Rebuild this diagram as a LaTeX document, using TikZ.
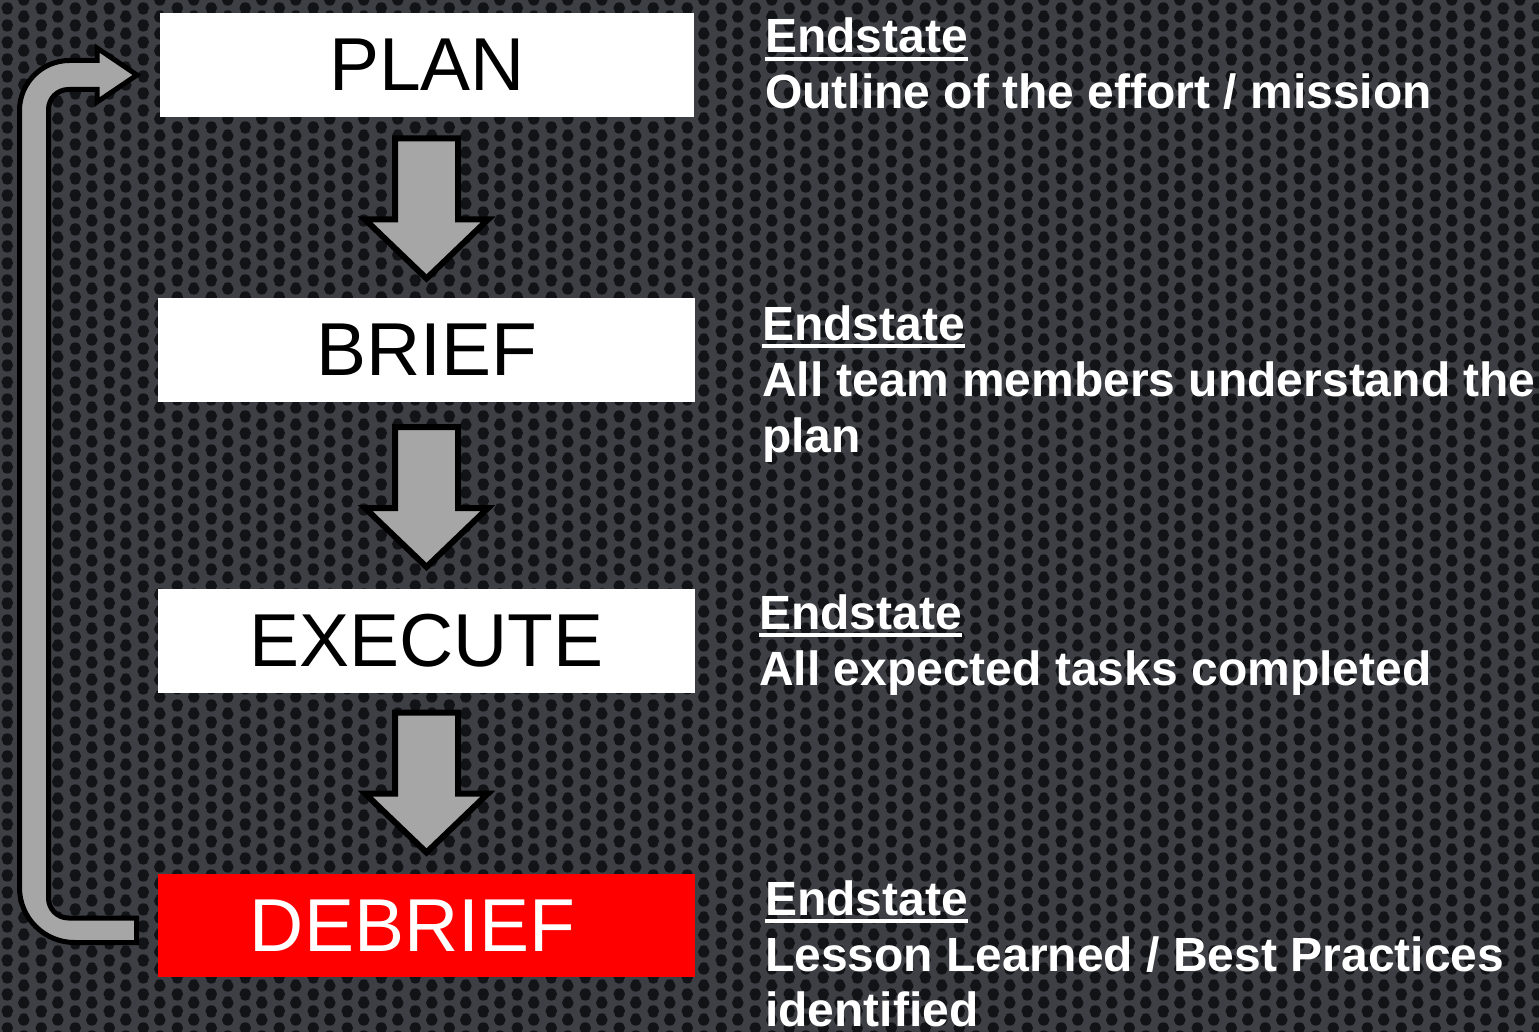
\documentclass[tikz,border=0pt]{standalone}
\usepackage{fontspec}
\setmainfont{Liberation Sans}
\usetikzlibrary{patterns}

% perforated metal: offset rows of round holes
\pgfdeclarepatternformonly{perforation}{\pgfpointorigin}{\pgfpoint{34pt}{17pt}}{\pgfpoint{34pt}{17pt}}{%
  \pgfpathcircle{\pgfpoint{8.5pt}{4.25pt}}{6pt}%
  \pgfpathcircle{\pgfpoint{8.5pt}{21.25pt}}{6pt}%
  \pgfpathcircle{\pgfpoint{25.5pt}{12.75pt}}{6pt}%
  \pgfpathcircle{\pgfpoint{25.5pt}{-4.25pt}}{6pt}%
  \pgfusepath{fill}}

\definecolor{meshgray}{RGB}{62,63,68}
\definecolor{holegray}{RGB}{18,19,23}
\definecolor{arrowgray}{RGB}{166,166,166}
\definecolor{debriefred}{RGB}{255,0,0}

% thick white underline for the headings
\newsavebox\ulbox
\newcommand\ulword[1]{\sbox\ulbox{#1}\rlap{\rule[-8pt]{\wd\ulbox}{4pt}}\usebox\ulbox}

\begin{document}
\begin{tikzpicture}[x=1pt,y=-1pt,
  stagebox/.style={draw=none, fill=white, minimum width=537pt, minimum height=104pt,
    inner sep=0pt, outer sep=0pt},
  stagelabel/.style={inner sep=0pt, font=\fontsize{75}{75}\selectfont},
  endhead/.style={anchor=base west, inner sep=0pt, text=white,
    font=\bfseries\fontsize{48}{56}\selectfont},
  endtext/.style={endhead},
  blockarrow/.style={draw=black, fill=arrowgray, line width=6pt, line join=miter},
  looparrow/.style={draw=black, fill=arrowgray, line width=5pt, line join=miter},
  pics/downarrow/.style={code={
    \draw[blockarrow] (-31.5,0) -- (31.5,0) -- (31.5,81) -- (61.5,81) -- (0,140)
      -- (-61.5,81) -- (-31.5,81) -- cycle;}}
]
% background plate
\useasboundingbox (0,0) rectangle (1539,1032);
\fill[meshgray] (0,0) rectangle (1539,1032);
\fill[pattern=perforation, pattern color=holegray] (0,0) rectangle (1539,1032);

% stage boxes
\node[stagebox, minimum width=534pt] (plan) at (427,65) {};
\node[stagebox] (brief) at (426.5,350) {};
\node[stagebox] (execute) at (426.5,641) {};
\node[stagebox, fill=debriefred, minimum height=103pt] (debrief) at (426.5,925.5) {};

\node[stagelabel] (planlabel) at (plan.center) {PLAN};
\node[stagelabel] (brieflabel) at (brief.center) {BRIEF};
\node[stagelabel] (executelabel) at (execute.center) {EXECUTE};
\node[stagelabel, text=white] (debrieflabel) at ([xshift=-14pt]debrief.center) {DEBRIEF};

% downward block arrows between the stages
\pic at (426.5,138.5) {downarrow};
\pic at (426.5,427) {downarrow};
\pic at (426.5,712.5) {downarrow};

% return arrow from DEBRIEF back to PLAN
\draw[looparrow] (136.5,918) -- (68.5,918)
  .. controls (57.45,918) and (48.5,909.05) .. (48.5,898)
  -- (48.5,109.5)
  .. controls (48.5,98.45) and (57.45,89.5) .. (68.5,89.5)
  -- (97,89.5) -- (97,102) -- (137,75) -- (97,48) -- (97,60.5)
  -- (69.5,60.5)
  .. controls (41.9,60.5) and (19.5,82.9) .. (19.5,110.5)
  -- (19.5,887.5)
  .. controls (19.5,917.9) and (44.1,942.5) .. (74.5,942.5)
  -- (136.5,942.5) -- cycle;

% end states
\node[endhead] (h1) at (765,53) {\ulword{Endstate}};
\node[endtext] (t1) at (765,109) {Outline of the effort / mission};

\node[endhead] (h2) at (762,340) {\ulword{Endstate}};
\node[endtext] (t2a) at (762,396) {All team members understand the};
\node[endtext] (t2b) at (762,452) {plan};

\node[endhead] (h3) at (759,629) {\ulword{Endstate}};
\node[endtext] (t3) at (759,685) {All expected tasks completed};

\node[endhead] (h4) at (765,915) {\ulword{Endstate}};
\node[endtext] (t4a) at (765,971) {Lesson Learned / Best Practices};
\node[endtext] (t4b) at (765,1026) {identified};
\end{tikzpicture}
\end{document}
